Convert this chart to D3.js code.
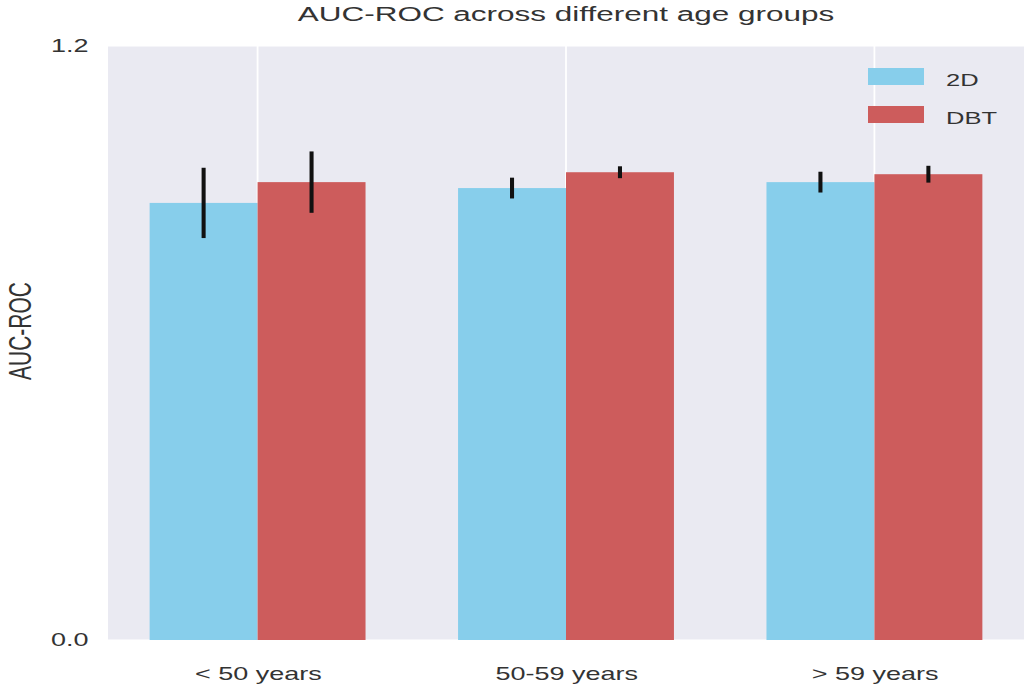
<!DOCTYPE html>
<html>
<head>
<meta charset="utf-8">
<script src="https://cdn.jsdelivr.net/npm/d3@7"></script>
<style>
  html, body { margin: 0; padding: 0; background: #fff; }
  svg { display: block; }
  text { font-family: "Liberation Sans", Arial, sans-serif; fill: #333; }
</style>
</head>
<body>
<svg id="chart"></svg>
<script>
const categories = ["< 50 years", "50-59 years", "> 59 years"];
const seriesNames = ["2D", "DBT"];
const values2D = [0.883, 0.913, 0.925];
const err2D = [0.071, 0.021, 0.021];
const valuesDBT = [0.925, 0.945, 0.941];
const errDBT = [0.062, 0.012, 0.017];
const yTickValues = [0.0, 1.2];
const colors = ["#87CEEB", "#CD5C5C"];

const OUT_W = 1024, OUT_H = 690;
const S = 1.5;                      // horizontal stretch of the picture
const W = OUT_W / S, H = OUT_H;

const svg = d3.select("#chart")
  .attr("width", OUT_W).attr("height", OUT_H)
  .attr("viewBox", `0 0 ${W} ${H}`)
  .attr("preserveAspectRatio", "none");

const m = { left: 108 / S, right: W - 1024 / S, top: 46, bottom: H - 640 };
const pw = W - m.left - m.right, ph = H - m.top - m.bottom;

const barW = 0.35;
const x = d3.scaleLinear().domain([-0.485, categories.length - 1 + 0.485]).range([m.left, m.left + pw]);
const y = d3.scaleLinear().domain([0, 1.2]).range([m.top + ph, m.top]);

// background
svg.append("rect").attr("x", m.left).attr("y", m.top).attr("width", pw).attr("height", ph).attr("fill", "#EAEAF2");

// grid
svg.append("g").selectAll("line").data(categories.map((d, i) => i)).join("line")
  .attr("x1", d => x(d)).attr("x2", d => x(d))
  .attr("y1", m.top).attr("y2", m.top + ph)
  .attr("stroke", "#fff").attr("stroke-width", 1.2);
svg.append("g").selectAll("line").data(yTickValues).join("line")
  .attr("x1", m.left).attr("x2", m.left + pw)
  .attr("y1", d => y(d)).attr("y2", d => y(d))
  .attr("stroke", "#fff").attr("stroke-width", 1.2);

const series = [
  { name: seriesNames[0], vals: values2D, errs: err2D, off: -barW / 2, color: colors[0] },
  { name: seriesNames[1], vals: valuesDBT, errs: errDBT, off: barW / 2, color: colors[1] }
];

series.forEach(s => {
  const g = svg.append("g");
  g.selectAll("rect").data(s.vals).join("rect")
    .attr("x", (d, i) => x(i + s.off - barW / 2))
    .attr("width", (d, i) => x(i + s.off + barW / 2) - x(i + s.off - barW / 2))
    .attr("y", d => y(d))
    .attr("height", d => y(0) - y(d))
    .attr("fill", s.color);
});
series.forEach(s => {
  svg.append("g").selectAll("line").data(s.vals).join("line")
    .attr("x1", (d, i) => x(i + s.off)).attr("x2", (d, i) => x(i + s.off))
    .attr("y1", (d, i) => y(d - s.errs[i])).attr("y2", (d, i) => y(d + s.errs[i]))
    .attr("stroke", "#111").attr("stroke-width", 2.7);
});

// axes
const xAxis = d3.axisBottom(x).tickValues(categories.map((d, i) => i))
  .tickFormat(i => categories[i]).tickSize(0).tickPadding(27);
const gx = svg.append("g").attr("transform", `translate(0,${m.top + ph})`).call(xAxis);
gx.select(".domain").remove();
gx.selectAll("text").attr("font-size", 18).style("fill", "#333");

const yAxis = d3.axisLeft(y).tickValues(yTickValues).tickFormat(d3.format(".1f")).tickSize(0).tickPadding(13);
const gy = svg.append("g").attr("transform", `translate(${m.left},0)`).call(yAxis);
gy.select(".domain").remove();
gy.selectAll("text").attr("font-size", 18).style("fill", "#333");

// title
svg.append("text").attr("x", m.left + pw / 2).attr("y", 21)
  .attr("text-anchor", "middle").attr("font-size", 21)
  .text("AUC-ROC across different age groups");

// y label
svg.append("text").attr("transform", `translate(${31 / S},${331}) rotate(-90)`)
  .attr("text-anchor", "middle").attr("font-size", 21)
  .text("AUC-ROC");

// legend
const lg = svg.append("g");
series.forEach((s, i) => {
  const yy = 68 + i * 38;
  lg.append("rect").attr("x", 868 / S).attr("y", yy).attr("width", 56 / S).attr("height", 17).attr("fill", s.color);
  lg.append("text").attr("x", 946 / S).attr("y", yy + 18).attr("font-size", 17).text(s.name);
});
</script>
</body>
</html>
